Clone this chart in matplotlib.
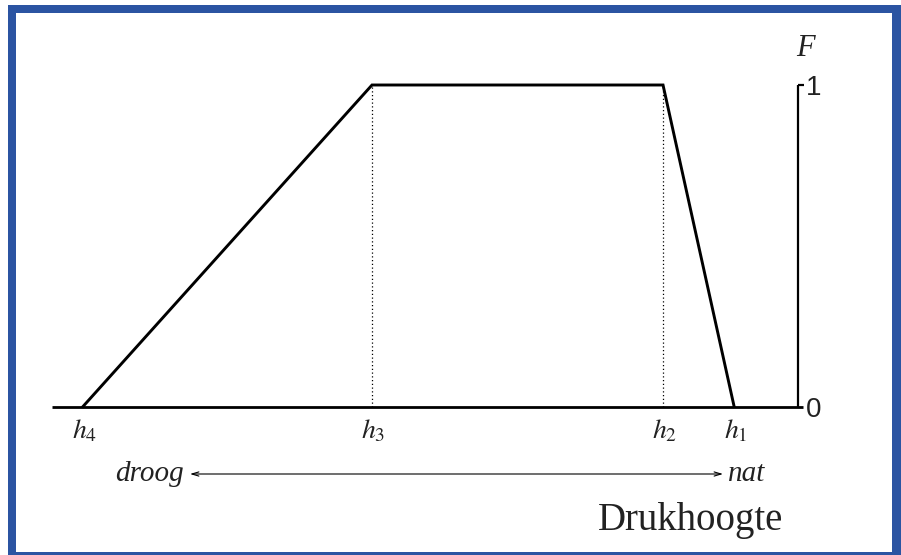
import matplotlib.pyplot as plt
from matplotlib.patches import Rectangle

plt.rcParams['mathtext.fontset'] = 'stix'

# drukhoogte posities (willekeurige eenheid) en reductiefactor F
h_labels = ['$h_4$', '$h_3$', '$h_2$', '$h_1$']
h_pos = [0.0, 10.0, 20.07, 22.53]
F_vals = [0.0, 1.0, 1.0, 0.0]
F_ticks = [0, 1]
F_ticklabels = ['0', '1']

W, H = 901, 555
fig = plt.figure(figsize=(W / 100, H / 100), dpi=100)

# overlay in pixelcoordinaten voor kader en teksten
ov = fig.add_axes([0, 0, 1, 1])
ov.set_xlim(0, W)
ov.set_ylim(H, 0)
ov.axis('off')

# hoofdassen: x in drukhoogte-eenheden, y in F
px_x = 28.9     # pixels per eenheid
px_y = 321.5
x0, y0 = 83, 406.5
ax = fig.add_axes([0, 0, 1, 1])
ax.set_xlim(-x0 / px_x, (W - x0) / px_x)
ax.set_ylim(-(H - y0) / px_y, y0 / px_y)
ax.axis('off')
ax.patch.set_alpha(0)

# blauw kader
blue = '#2b54a2'
for r in [(8, 5, 8, H), (8, 5, W, 8), (892, 5, 12, H), (8, 552, W, 6)]:
    ov.add_patch(Rectangle((r[0], r[1]), r[2], r[3], color=blue, lw=0))

# basislijn en verticale F-as
x_axis = 24.74
ax.plot([-1.07, 24.91], [0, 0], color='black', lw=2.0, solid_capstyle='butt')
ax.plot([x_axis, x_axis], [0, 1], color='black', lw=1.6, solid_capstyle='butt')
ax.plot([x_axis, x_axis + 0.22], [1, 1], color='black', lw=1.6, solid_capstyle='butt')

# trapeziumvormige reductiecurve
ax.plot(h_pos, F_vals, color='black', lw=2.1, solid_joinstyle='miter')
for x in h_pos[1:3]:
    ax.plot([x, x], [0, 1], color='black', lw=0.9, ls=(0, (1, 2)))

for lab, x in zip(h_labels, h_pos):
    ax.text(x + 0.05, -0.075, lab, ha='center', va='center', fontsize=20,
            color='#222222')

for t, lab in zip(F_ticks, F_ticklabels):
    ax.text(x_axis + 0.55, t - 0.01, lab, ha='center', va='center',
            fontsize=20, family='Liberation Sans', color='#222222')
ax.text(x_axis + 0.25, 1.115, 'F', ha='center', va='center', fontsize=22,
        family='Liberation Serif', style='italic', color='#222222')

# droog <-> nat pijl
ov.annotate('', xy=(190, 474), xytext=(723, 474),
            arrowprops=dict(arrowstyle='<->,head_length=0.5,head_width=0.15',
                            lw=0.8, color='black', shrinkA=0, shrinkB=0))
ov.text(184, 474, 'droog', ha='right', va='center', fontsize=21,
        family='Liberation Serif', style='italic', color='#222222')
ov.text(728, 474, 'nat', ha='left', va='center', fontsize=21,
        family='Liberation Serif', style='italic', color='#222222')
ov.text(783, 530, 'Drukhoogte', ha='right', va='baseline', fontsize=28,
        family='Liberation Serif', color='#222222')

fig.savefig('out.png', dpi=100)
